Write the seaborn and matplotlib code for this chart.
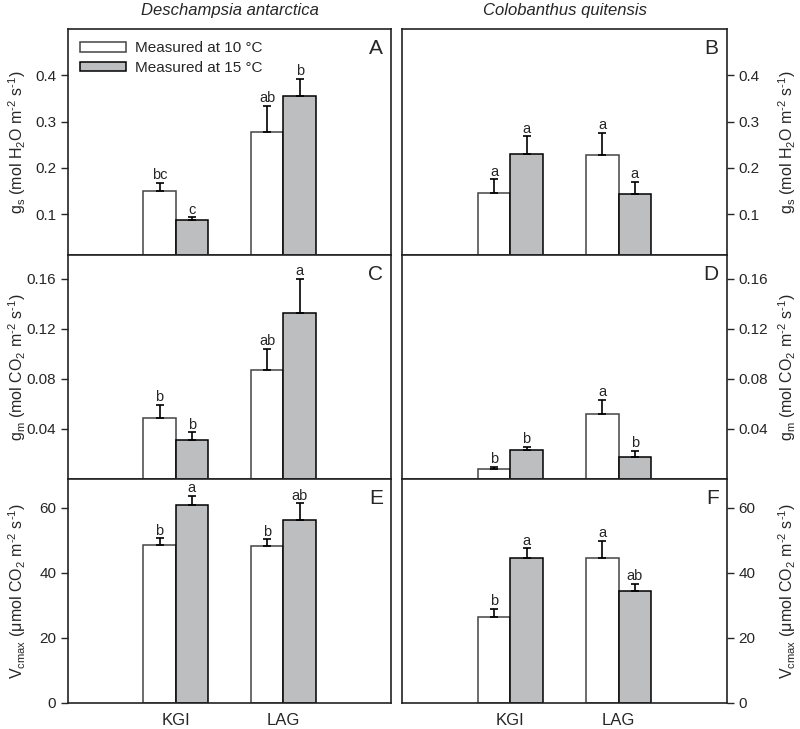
import numpy as np
import pandas as pd
import matplotlib
matplotlib.use("Agg")
import matplotlib.pyplot as plt
import seaborn as sns

# Data (mean and upward SE)
sites = ["KGI", "LAG"]
temps = ["Measured at 10 °C", "Measured at 15 °C"]

# A - Deschampsia antarctica, gs
gs_da_10 = [0.149, 0.278]
gs_da_10_se = [0.018, 0.056]
gs_da_15 = [0.086, 0.356]
gs_da_15_se = [0.007, 0.036]
gs_da_let_10 = ["bc", "ab"]
gs_da_let_15 = ["c", "b"]

# B - Colobanthus quitensis, gs
gs_cq_10 = [0.146, 0.227]
gs_cq_10_se = [0.029, 0.048]
gs_cq_15 = [0.230, 0.143]
gs_cq_15_se = [0.038, 0.026]
gs_cq_let_10 = ["a", "a"]
gs_cq_let_15 = ["a", "a"]

# C - Deschampsia antarctica, gm
gm_da_10 = [0.0488, 0.0871]
gm_da_10_se = [0.0106, 0.017]
gm_da_15 = [0.0309, 0.133]
gm_da_15_se = [0.0064, 0.027]
gm_da_let_10 = ["b", "ab"]
gm_da_let_15 = ["b", "a"]

# D - Colobanthus quitensis, gm
gm_cq_10 = [0.0080, 0.052]
gm_cq_10_se = [0.0017, 0.011]
gm_cq_15 = [0.0232, 0.0177]
gm_cq_15_se = [0.0024, 0.005]
gm_cq_let_10 = ["b", "a"]
gm_cq_let_15 = ["b", "b"]

# E - Deschampsia antarctica, Vcmax
vc_da_10 = [48.6, 48.2]
vc_da_10_se = [2.0, 2.1]
vc_da_15 = [60.8, 56.1]
vc_da_15_se = [2.8, 5.3]
vc_da_let_10 = ["b", "b"]
vc_da_let_15 = ["a", "ab"]

# F - Colobanthus quitensis, Vcmax
vc_cq_10 = [26.5, 44.5]
vc_cq_10_se = [2.5, 5.3]
vc_cq_15 = [44.7, 34.4]
vc_cq_15_se = [2.8, 2.3]
vc_cq_let_10 = ["b", "a"]
vc_cq_let_15 = ["a", "ab"]

gs_label = r"g$_\mathrm{s}$ (mol H$_2$O m$^{\text{-}2}$ s$^{\text{-}1}$)"
gm_label = r"g$_\mathrm{m}$ (mol CO$_2$ m$^{\text{-}2}$ s$^{\text{-}1}$)"
vc_label = r"V$_\mathrm{cmax}$ ($\mu$mol CO$_2$ m$^{\text{-}2}$ s$^{\text{-}1}$)"

sns.set_style("ticks")
plt.rcParams['font.family'] = ['Liberation Sans', 'DejaVu Sans']
plt.rcParams['mathtext.default'] = 'regular'
plt.rcParams['mathtext.fontset'] = 'custom'
plt.rcParams['mathtext.rm'] = 'Liberation Sans'
plt.rcParams['mathtext.it'] = 'Liberation Sans:italic'

panels = [
    ("A", gs_da_10, gs_da_10_se, gs_da_15, gs_da_15_se, gs_da_let_10, gs_da_let_15, gs_label, (0.011, 0.5), [0.1, 0.2, 0.3, 0.4], "%.1f"),
    ("B", gs_cq_10, gs_cq_10_se, gs_cq_15, gs_cq_15_se, gs_cq_let_10, gs_cq_let_15, gs_label, (0.011, 0.5), [0.1, 0.2, 0.3, 0.4], "%.1f"),
    ("C", gm_da_10, gm_da_10_se, gm_da_15, gm_da_15_se, gm_da_let_10, gm_da_let_15, gm_label, (0, 0.179), [0.04, 0.08, 0.12, 0.16], "%.2f"),
    ("D", gm_cq_10, gm_cq_10_se, gm_cq_15, gm_cq_15_se, gm_cq_let_10, gm_cq_let_15, gm_label, (0, 0.179), [0.04, 0.08, 0.12, 0.16], "%.2f"),
    ("E", vc_da_10, vc_da_10_se, vc_da_15, vc_da_15_se, vc_da_let_10, vc_da_let_15, vc_label, (0, 68.8), [0, 20, 40, 60], "%d"),
    ("F", vc_cq_10, vc_cq_10_se, vc_cq_15, vc_cq_15_se, vc_cq_let_10, vc_cq_let_15, vc_label, (0, 68.8), [0, 20, 40, 60], "%d"),
]

fig = plt.figure(figsize=(8, 7.29), dpi=100)

col_x = [0.085, 0.5025]
col_w = [0.404, 0.406]
row_y = [0.650, 0.343, 0.0357]
row_h = [0.310, 0.307, 0.307]

bar_colors = ["white", "#BDBEC0"]
edge_colors = ["#444444", "black"]

for k, (letter, m10, s10, m15, s15, l10, l15, ylab, ylim, yticks, fmt) in enumerate(panels):
    row, col = k // 2, k % 2
    ax = fig.add_axes([col_x[col], row_y[row], col_w[col], row_h[row]])

    df = pd.DataFrame({
        "site": sites * 2,
        "temp": [temps[0]] * 2 + [temps[1]] * 2,
        "value": m10 + m15,
    })
    sns.barplot(data=df, x="site", y="value", hue="temp", order=sites, hue_order=temps,
                palette=dict(zip(temps, bar_colors)), width=0.6, errorbar=None,
                linewidth=1.1, ax=ax)

    means = [m10, m15]
    ses = [s10, s15]
    lets = [l10, l15]
    bar_conts = list(ax.containers)
    for h, cont in enumerate(bar_conts):
        xs = []
        for p in cont.patches:
            p.set_edgecolor(edge_colors[h])
            xs.append(p.get_x() + p.get_width() / 2)
        tops = np.array(means[h]) + np.array(ses[h])
        ax.errorbar(xs, means[h], yerr=[np.zeros(2), ses[h]], fmt="none",
                    ecolor="black", elinewidth=1.2, capsize=3, capthick=1.2, zorder=1)
        for x, t, s in zip(xs, tops, lets[h]):
            ax.annotate(s, (x, t), xytext=(0, 0.5), textcoords="offset points",
                        ha="center", va="bottom", fontsize=10.5)

    ax.set_xlim(-1, 2)
    ax.set_ylim(*ylim)
    ax.set_yticks(yticks)
    ax.yaxis.set_major_formatter(matplotlib.ticker.FormatStrFormatter(fmt))
    ax.set_ylabel(ylab, fontsize=11.5)
    ax.set_xlabel("")
    ax.tick_params(axis="y", labelsize=11, length=5, width=1, direction="out")
    if col == 1:
        ax.yaxis.tick_right()
        ax.yaxis.set_label_position("right")
        ax.yaxis.set_label_coords(1.152, 0.5)
    else:
        ax.yaxis.set_label_coords(-0.125, 0.5)
    if row == 2:
        ax.tick_params(axis="x", length=0, labelsize=12, pad=7)
    else:
        ax.tick_params(axis="x", length=0, labelbottom=False)
    for sp in ax.spines.values():
        sp.set_visible(True)
        sp.set_linewidth(1.2)
        sp.set_color("#222222")

    ax.text(0.975, 0.955, letter, transform=ax.transAxes, ha="right", va="top", fontsize=15)

    if k == 0:
        ax.legend(bar_conts, temps, loc="upper left", frameon=False, fontsize=11,
                  handlelength=3.0, handleheight=0.55, borderaxespad=0.4,
                  labelspacing=0.35, handletextpad=0.6, bbox_to_anchor=(0.0, 1.0))
    else:
        leg = ax.get_legend()
        if leg is not None:
            leg.remove()

fig.text(0.287, 0.985, "Deschampsia antarctica", ha="center", va="center", fontsize=12, style="italic")
fig.text(0.706, 0.985, "Colobanthus quitensis", ha="center", va="center", fontsize=12, style="italic")

fig.savefig("out.png", dpi=100)
